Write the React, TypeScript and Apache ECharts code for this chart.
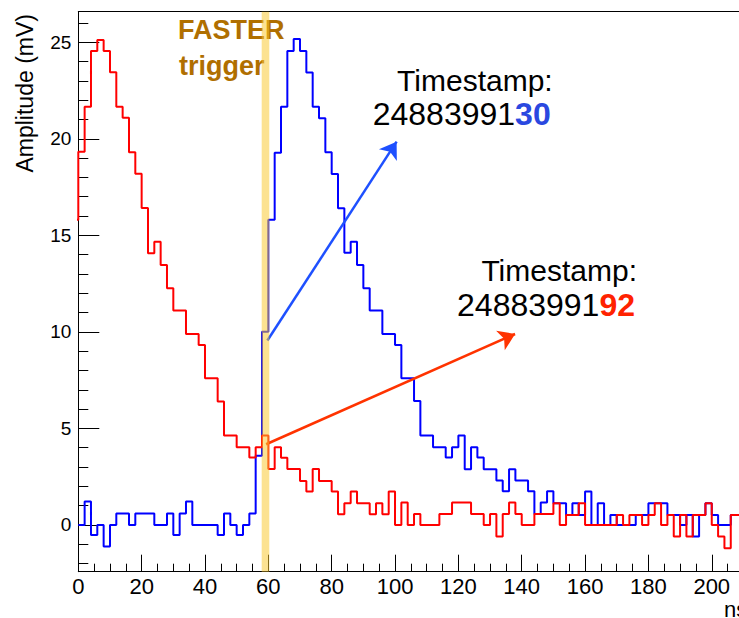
import React, { useEffect, useRef } from "react";
import * as echarts from "echarts";

const FONT = "'Liberation Sans', Arial, Helvetica, sans-serif";

// Histogram binning (ns)
const BIN_WIDTH = 2;
const RED_FIRST_BIN = -2;
const BLUE_FIRST_BIN = 0;

// Red waveform, one value per 2 ns bin starting at -2 ns (mV)
const redAmplitude = [
  15.8,
  19.33, 21.66, 24.55, 25.12, 24.55, 23.44, 21.66, 21.09, 19.3, 18.19,
  16.42, 14.07, 14.67, 13.46, 12.26, 11.1, 11.1, 9.89, 9.89, 9.32,
  7.6, 7.6, 6.39, 4.63, 4.63, 4.02, 4.02, 3.49, 4.02, 4.63,
  2.9, 4.02, 3.48, 2.9, 2.9, 2.28, 1.73, 2.9, 2.28, 2.28,
  1.73, 0.55, 1.12, 1.73, 1.12, 1.12, 0.55, 1.12, 0.55, 1.73,
  0, 1.16, 0, 0.57, 0, 0, 0, 0.57, 0.57, 1.16,
  1.16, 1.16, 0.57, 0.57, 0, 0.57, -0.6, 0.57, 1.16, 0.57,
  0, 0, 0.57, 0.57, 0.57, 1.12, 0, 0.52, 0.52, 1.12,
  0, 0, 0, 0, 0, 0.52, 0, 0.52, 0.52, 0,
  0.52, 1.12, 0, 0.52, -0.6, 0.52, -0.6, 0.52, 0.52, 1.12,
  0, -0.6, -1.2, 0.52, 0.52,
];

// Blue waveform, one value per 2 ns bin starting at 0 ns (mV)
const blueAmplitude = [
  0, 1.21, -0.52, 0, -1.12, 0, 0.6, 0.6, 0, 0.6,
  0.6, 0.6, 0, 0, 0.6, -0.52, 0.6, 1.21, 0, 0,
  0, 0, -0.52, 0.6, 0, -0.52, 0, 0.6, 3.59, 10,
  15.8, 19.28, 21.66, 24.55, 25.17, 24.55, 23.43, 21.66, 21.06, 19.3,
  18.18, 16.4, 14.1, 14.67, 13.46, 12.26, 11.1, 11.1, 9.89, 9.89,
  9.32, 7.6, 7.6, 6.42, 4.63, 4.63, 4.02, 4.02, 3.5, 4.02,
  4.63, 2.88, 4.02, 3.5, 2.88, 2.88, 2.3, 1.74, 2.88, 2.3,
  2.3, 1.74, 0.57, 1.16, 1.74, 1.12, 1.12, 0.52, 1.12, 0.52,
  1.73, 0, 1.12, 0, 0.52, 0, 0, 0, 0.52, 0.52,
  1.12, 1.12, 1.12, 0.52, 0.52, 0, 0.52, -0.6, 0.52, 1.12,
  0.52, 0, 0, 0.52, 0.52,
];

// Axes
const X_MIN = 0;
const X_MAX = 208.6;
const X_INTERVAL = 20;
const Y_MIN = -2.42;
const Y_MAX = 26.58;
const yMajorTicks = [0, 5, 10, 15, 20, 25];
const yMinorTicks = [-2, -1, 0, 1, 2, 3, 4, 5, 6, 7, 8, 9, 10, 11, 12, 13, 14, 15, 16, 17, 18, 19, 20, 21, 22, 23, 24, 25, 26];

// Annotations (data coordinates: ns, mV)
const triggerWindow = [57.9, 60.3];
const blueArrow = [[59.7, 9.55], [100.5, 19.85]];
const redArrow = [[59.3, 4.18], [137.9, 9.89]];
const timestampLabel = "Timestamp:";
const blueTimestamp = ["24883991", "30"];
const redTimestamp = ["24883991", "92"];
const triggerLines = ["FASTER", "trigger"];
const yTitle = "Amplitude (mV)";
const xTitle = "ns";

function toSteps(first: number, values: number[]) {
  const pts = values.map((v, i) => [first + i * BIN_WIDTH, v]);
  pts.push([first + values.length * BIN_WIDTH, values[values.length - 1]]);
  return pts;
}

function arrowMark(pts: number[][], color: string) {
  return {
    silent: true,
    z: 6,
    symbol: ["none", "arrow"],
    symbolSize: 16,
    label: { show: false },
    emphasis: { disabled: true },
    lineStyle: { color, width: 2.5, type: "solid" },
    data: [[{ coord: pts[0] }, { coord: pts[1] }]],
  };
}

export default function App() {
  const ref = useRef<HTMLDivElement>(null);

  useEffect(() => {
    document.body.style.margin = "0";
    if (!ref.current) return;
    const chart = echarts.init(ref.current, undefined, { renderer: "svg" });

    const tsText = (
      right: number,
      top: number,
      parts: string[],
      color: string
    ) => [
      {
        type: "text",
        x: right + 2,
        y: top,
        z: 20,
        style: {
          text: timestampLabel,
          fontSize: 30,
          fontFamily: FONT,
          fill: "#000",
          align: "right",
          verticalAlign: "middle",
        },
      },
      {
        type: "text",
        x: right,
        y: top + 34,
        z: 20,
        style: {
          text: parts[0] + "{h|" + parts[1] + "}",
          fontSize: 32,
          fontFamily: FONT,
          fill: "#000",
          align: "right",
          verticalAlign: "middle",
          rich: {
            h: { fontSize: 32, fontFamily: FONT, fontWeight: "bold", fill: color },
          },
        },
      },
    ];

    const xAxisBase = {
      type: "value",
      min: X_MIN,
      max: X_MAX,
      interval: X_INTERVAL,
      splitLine: { show: false },
    };

    chart.setOption({
      animation: false,
      backgroundColor: "#ffffff",
      textStyle: { fontFamily: FONT },
      grid: {
        left: 78.3,
        top: 11.7,
        right: 0,
        height: 560,
        show: false,
      },
      xAxis: [
        {
          ...xAxisBase,
          position: "bottom",
          axisLine: { onZero: false, lineStyle: { color: "#000", width: 1 } },
          axisTick: { inside: true, length: 17, lineStyle: { color: "#000", width: 1 } },
          minorTick: { show: true, splitNumber: 4, length: 8, lineStyle: { color: "#000", width: 1 } },
          axisLabel: {
            fontSize: 22,
            color: "#000",
            margin: 4,
            showMaxLabel: false,
            fontFamily: FONT,
          },
        },
        {
          ...xAxisBase,
          position: "top",
          axisLine: { show: true, onZero: false, lineStyle: { color: "#000", width: 1 } },
          axisTick: { show: false },
          minorTick: { show: false },
          axisLabel: { show: false },
        },
      ],
      yAxis: [
        {
          type: "value",
          min: Y_MIN,
          max: Y_MAX,
          axisLine: { show: true, onZero: false, lineStyle: { color: "#000", width: 1 } },
          axisTick: { show: true, inside: true, length: 21, customValues: yMajorTicks, lineStyle: { color: "#000", width: 1 } },
          axisLabel: { customValues: yMajorTicks, fontSize: 19, color: "#000", margin: 7, fontFamily: FONT },
          splitLine: { show: false },
        },
        {
          type: "value",
          min: Y_MIN,
          max: Y_MAX,
          position: "left",
          axisLine: { show: false, onZero: false },
          axisTick: { show: true, inside: true, length: 10, customValues: yMinorTicks, lineStyle: { color: "#000", width: 1 } },
          axisLabel: { show: false },
          splitLine: { show: false },
        },
      ],
      series: [
        {
          name: "blue",
          type: "line",
          step: "end",
          data: toSteps(BLUE_FIRST_BIN, blueAmplitude),
          symbol: "none",
          showSymbol: false,
          clip: true,
          z: 2,
          lineStyle: { color: "#0000ff", width: 2 },
          itemStyle: { color: "#0000ff" },
          markLine: arrowMark(blueArrow, "#1e50ff"),
        },
        {
          name: "red",
          type: "line",
          step: "end",
          data: toSteps(RED_FIRST_BIN, redAmplitude),
          symbol: "none",
          showSymbol: false,
          clip: true,
          z: 3,
          lineStyle: { color: "#ff0000", width: 2 },
          itemStyle: { color: "#ff0000" },
          markLine: arrowMark(redArrow, "#ff3300"),
        },
        {
          name: "trigger",
          type: "line",
          data: [],
          z: 10,
          markArea: {
            silent: true,
            z: 10,
            itemStyle: { color: "rgba(250,200,45,0.52)" },
            label: { show: false },
            data: [[{ xAxis: triggerWindow[0] }, { xAxis: triggerWindow[1] }]],
          },
        },
      ],
      graphic: [
        {
          type: "text",
          x: 178,
          y: 30.2,
          z: 1,
          style: {
            text: triggerLines[0],
            fontSize: 27,
            fontWeight: "bold",
            fontFamily: FONT,
            fill: "#b06f00",
            align: "left",
            verticalAlign: "middle",
          },
        },
        {
          type: "text",
          x: 179,
          y: 65.9,
          z: 1,
          style: {
            text: triggerLines[1],
            fontSize: 27,
            fontWeight: "bold",
            fontFamily: FONT,
            fill: "#b06f00",
            align: "left",
            verticalAlign: "middle",
          },
        },
        ...tsText(550.7, 80.4, blueTimestamp, "#2a48e0"),
        ...tsText(635, 270.5, redTimestamp, "#ff2200"),
        {
          type: "text",
          x: 25,
          y: 93.3,
          rotation: Math.PI / 2,
          style: {
            text: yTitle,
            fontSize: 23,
            fontFamily: FONT,
            fill: "#000",
            align: "center",
            verticalAlign: "middle",
          },
        },
        {
          type: "text",
          x: 724,
          y: 609,
          style: {
            text: xTitle,
            fontSize: 22,
            fontFamily: FONT,
            fill: "#000",
            align: "left",
            verticalAlign: "middle",
          },
        },
      ],
    });

    return () => chart.dispose();
  }, []);

  return <div ref={ref} style={{ width: 739, height: 618 }} />;
}
